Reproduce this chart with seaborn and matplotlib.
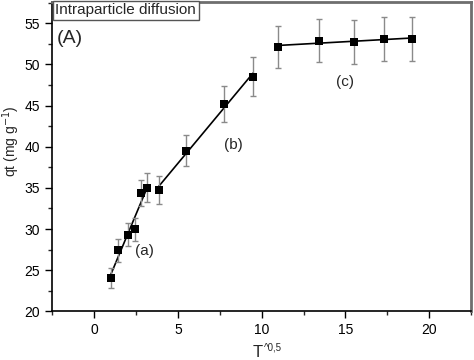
import numpy as np
import pandas as pd
import matplotlib
matplotlib.use("Agg")
import matplotlib.pyplot as plt
import seaborn as sns
from matplotlib.ticker import MultipleLocator

sns.set_style("ticks")
plt.rcParams['font.family'] = ['Liberation Sans', 'DejaVu Sans']

# data
x_vals = [1.0, 1.41, 2.0, 2.45, 2.83, 3.16, 3.87, 5.48, 7.75, 9.49, 10.95, 13.42, 15.49, 17.32, 18.97]
qt_vals = [24.1, 27.4, 29.3, 30.0, 34.4, 35.0, 34.8, 39.5, 45.2, 48.5, 52.1, 52.9, 52.7, 53.1, 53.1]
err_vals = [1.2, 1.4, 1.4, 1.4, 1.6, 1.75, 1.7, 1.9, 2.2, 2.4, 2.6, 2.65, 2.65, 2.7, 2.7]
stage = ['a'] * 6 + ['b'] * 4 + ['c'] * 5
stage_labels = ['(a)', '(b)', '(c)']
stage_label_pos = [(3.0, 27.3), (8.3, 40.2), (15.0, 47.9)]

df = pd.DataFrame({'x': x_vals, 'qt': qt_vals, 'err': err_vals, 'stage': stage})

fig = plt.figure(figsize=(4.74, 3.6), dpi=100)
ax = fig.add_axes([0.11, 0.135, 0.884, 0.86])

# fitted lines per stage
for s in ['a', 'b', 'c']:
    sub = df[df.stage == s]
    sns.regplot(data=sub, x='x', y='qt', scatter=False, ci=None, truncate=True,
                color='black', line_kws={'lw': 1.2}, ax=ax)

ax.errorbar(df.x, df.qt, yerr=df.err, fmt='none', ecolor='#8a8a8a', elinewidth=1.0,
            capsize=2.5, capthick=1.0, zorder=2)
sns.scatterplot(data=df, x='x', y='qt', marker='s', color='black', s=32,
                edgecolor='black', linewidth=0, ax=ax, zorder=3)

for lab, (tx, ty) in zip(stage_labels, stage_label_pos):
    ax.text(tx, ty, lab, fontsize=11, ha='center', va='center')

ax.set_xlim(-2.5, 22.5)
ax.set_ylim(20, 57.6)
ax.xaxis.set_major_locator(MultipleLocator(5))
ax.xaxis.set_minor_locator(MultipleLocator(2.5))
ax.yaxis.set_major_locator(MultipleLocator(5))
ax.yaxis.set_minor_locator(MultipleLocator(2.5))
ax.tick_params(which='major', direction='out', length=5, width=1, labelsize=10, colors='black')
ax.tick_params(which='minor', direction='out', length=3, width=1)

for side in ['left', 'bottom']:
    ax.spines[side].set_color('black')
    ax.spines[side].set_linewidth(1.2)
for side in ['top', 'right']:
    ax.spines[side].set_visible(True)
    ax.spines[side].set_color('#6e6e6e')
    ax.spines[side].set_linewidth(2.0)

ax.set_xlabel('')
ax.set_ylabel('qt (mg g$^{-1}$)', fontsize=10)
ax.yaxis.set_label_coords(-0.071, 0.55)
fig.text(258 / 474, 1 - 345 / 360, 'T', fontsize=12, ha='center', va='top')
fig.text(264 / 474, 1 - 342 / 360, '^0,5', fontsize=7, ha='left', va='top')

ax.text(0.008, 0.995, 'Intraparticle diffusion', transform=ax.transAxes, fontsize=11,
        ha='left', va='top',
        bbox=dict(boxstyle='square,pad=0.15', facecolor='white', edgecolor='#555555', lw=1))
ax.text(0.012, 0.88, '(A)', transform=ax.transAxes, fontsize=14, ha='left', va='center')

fig.savefig('out.png', dpi=100)
